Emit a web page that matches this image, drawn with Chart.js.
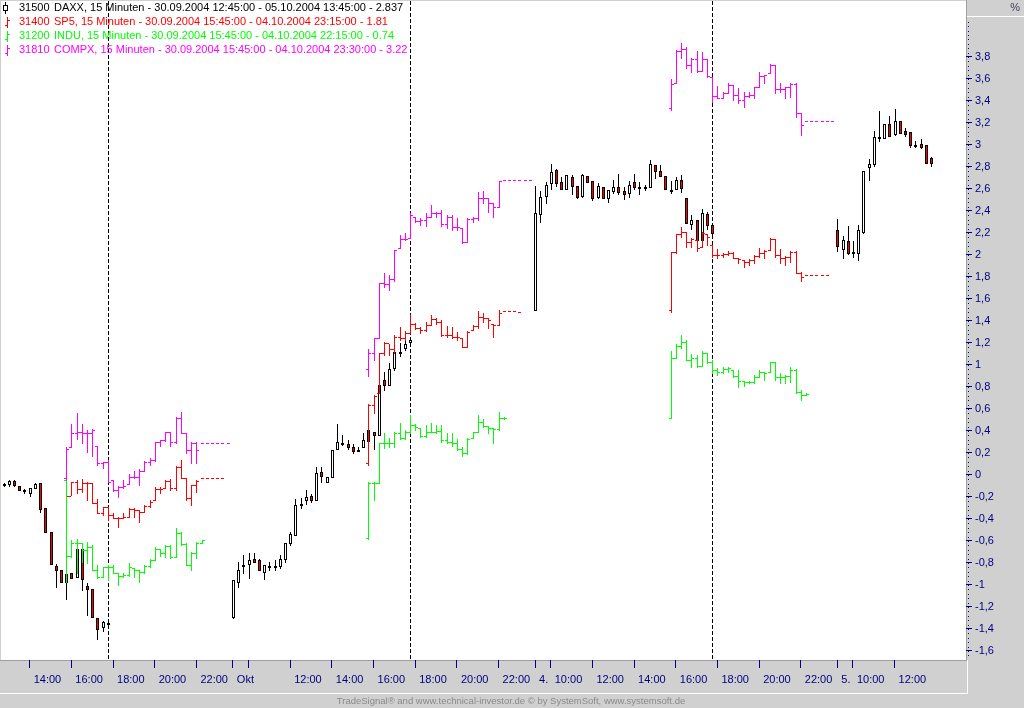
<!DOCTYPE html>
<html lang="de">
<head>
<meta charset="UTF-8">
<title>DAXX / SP5 / INDU / COMPX - 15 Minuten</title>
<script src="https://cdn.jsdelivr.net/npm/chart.js@4.4.2/dist/chart.umd.min.js"></script>
<style>
  html, body { margin: 0; padding: 0; background: #d0d0d0; overflow: hidden; }
  #wrap { width: 1024px; height: 708px; }
</style>
</head>
<body>
<div id="wrap"><canvas id="chart" width="1024" height="708"></canvas></div>
<script>
// --- Daten: Prozentwerte, je Balken [Open, High, Low, Close] ---
// x = fortlaufender 15-Minuten-Slot (nur Handelszeiten)

// DAXX Kerzen
const daxxStart = [0, 44, 102, 160];
const daxxSep30 = [
  [-0.08,-0.07,-0.10,-0.085],[-0.085,-0.05,-0.10,-0.055],[-0.055,-0.05,-0.10,-0.09],[-0.10,-0.10,-0.14,-0.14],
  [-0.14,-0.13,-0.16,-0.14],[-0.16,-0.12,-0.19,-0.12],[-0.12,-0.075,-0.12,-0.085],[-0.075,-0.075,-0.34,-0.31],
  [-0.30,-0.30,-0.52,-0.52],[-0.52,-0.52,-0.81,-0.81],[-0.83,-0.81,-1.02,-0.86],[-0.86,-0.86,-0.97,-0.97],
  [-0.97,-0.90,-1.13,-0.90],[-0.89,-0.89,-0.94,-0.94],[-0.93,-0.67,-0.93,-0.67],[-0.67,-0.67,-1.05,-0.95],
  [-1.01,-0.98,-1.27,-1.04],[-1.04,-1.04,-1.29,-1.29],[-1.30,-1.30,-1.49,-1.40],[-1.38,-1.33,-1.42,-1.34],
  [-1.35,-1.33,-1.38,-1.35]
];
const daxxOct01 = [
  [-1.29,-0.955,-1.30,-0.955],[-0.97,-0.79,-1.02,-0.864],[-0.83,-0.73,-0.89,-0.82],[-0.81,-0.71,-0.94,-0.77],
  [-0.76,-0.71,-0.79,-0.79],[-0.77,-0.76,-0.86,-0.86],[-0.88,-0.82,-0.95,-0.82],[-0.83,-0.79,-0.86,-0.83],
  [-0.83,-0.77,-0.86,-0.83],[-0.83,-0.73,-0.85,-0.76],[-0.765,-0.615,-0.79,-0.615],[-0.62,-0.52,-0.64,-0.54],
  [-0.55,-0.22,-0.55,-0.27],[-0.26,-0.21,-0.30,-0.26],[-0.23,-0.14,-0.26,-0.20],[-0.19,-0.17,-0.25,-0.23],
  [-0.23,0.076,-0.23,0.015],[0.03,0.076,-0.06,-0.01],[-0.067,-0.02,-0.067,-0.02],[-0.02,0.23,-0.02,0.23],
  [0.24,0.46,0.24,0.30],[0.29,0.36,0.27,0.29],[0.28,0.32,0.24,0.25],[0.25,0.28,0.20,0.22],
  [0.23,0.25,0.22,0.23],[0.25,0.38,0.25,0.32],[0.41,0.41,0.31,0.31],[0.39,0.39,0.24,0.36],
  [0.36,0.82,0.36,0.82],[0.86,0.94,0.77,0.82],[0.82,1.02,0.82,0.96],[0.97,1.12,0.95,1.12],
  [1.12,1.20,1.08,1.12],[1.15,1.23,1.14,1.19],[1.21,1.24,1.19,1.23]
];
const daxxOct04 = [
  [1.50,2.63,1.50,2.38],[2.37,2.58,2.30,2.53],[2.54,2.66,2.47,2.64],[2.65,2.83,2.60,2.75],
  [2.77,2.78,2.63,2.65],[2.66,2.71,2.60,2.60],[2.60,2.73,2.60,2.73],[2.71,2.73,2.55,2.63],
  [2.63,2.63,2.52,2.53],[2.54,2.74,2.53,2.73],[2.72,2.72,2.66,2.66],[2.67,2.67,2.50,2.52],
  [2.53,2.65,2.52,2.63],[2.62,2.62,2.52,2.52],[2.52,2.59,2.48,2.59],[2.58,2.68,2.56,2.62],
  [2.62,2.74,2.55,2.57],[2.58,2.62,2.51,2.55],[2.56,2.67,2.53,2.64],[2.66,2.74,2.60,2.62],
  [2.62,2.66,2.55,2.62],[2.62,2.64,2.59,2.62],[2.62,2.86,2.62,2.83],[2.82,2.82,2.70,2.76],
  [2.76,2.82,2.72,2.72],[2.72,2.72,2.60,2.60],[2.59,2.67,2.56,2.59],[2.60,2.71,2.60,2.68],
  [2.68,2.73,2.57,2.61],[2.52,2.52,2.29,2.29],[2.28,2.36,2.24,2.32],[2.32,2.32,2.14,2.14],
  [2.14,2.42,2.14,2.38],[2.37,2.39,2.24,2.27],[2.27,2.27,2.17,2.20]
];
const daxxOct05 = [
  [2.23,2.33,2.04,2.08],[2.05,2.17,1.97,2.14],[2.13,2.26,2.01,2.02],[2.03,2.13,1.98,2.03],
  [2.02,2.27,1.95,2.23],[2.21,2.76,2.20,2.76],[2.80,2.87,2.68,2.83],[2.83,3.13,2.81,3.07],
  [3.07,3.31,3.04,3.07],[3.06,3.19,3.06,3.19],[3.19,3.26,3.08,3.08],[3.10,3.33,3.09,3.22],
  [3.22,3.22,3.11,3.11],[3.13,3.15,3.08,3.10],[3.12,3.12,2.98,3.00],[3.00,3.04,2.98,3.00],
  [3.01,3.05,2.97,2.98],[3.00,3.00,2.84,2.84],[2.88,2.89,2.81,2.837]
];

// US-Indizes (Balken), Start jeweils 15:45
const usStart = [12, 70, 128];
const sp5Sep30 = [
  [-0.05,-0.045,-0.197,-0.191],[-0.191,-0.061,-0.182,-0.061],[-0.061,-0.045,-0.167,-0.13],[-0.13,-0.04,-0.152,-0.07],
  [-0.07,-0.061,-0.227,-0.076],[-0.076,-0.076,-0.258,-0.258],[-0.258,-0.221,-0.348,-0.348],[-0.348,-0.288,-0.364,-0.294],
  [-0.294,-0.288,-0.409,-0.364],[-0.364,-0.348,-0.394,-0.394],[-0.394,-0.385,-0.47,-0.394],[-0.394,-0.348,-0.394,-0.385],
  [-0.379,-0.303,-0.379,-0.312],[-0.312,-0.303,-0.379,-0.318],[-0.318,-0.318,-0.424,-0.333],[-0.333,-0.273,-0.333,-0.282],
  [-0.282,-0.227,-0.288,-0.242],[-0.227,-0.112,-0.227,-0.13],[-0.13,-0.112,-0.16,-0.13],[-0.121,-0.045,-0.121,-0.052],
  [-0.052,-0.04,-0.136,-0.121],[-0.121,0.082,-0.136,0.076],[0.076,0.136,-0.03,-0.03],[-0.03,-0.03,-0.227,-0.212],
  [-0.212,-0.091,-0.273,-0.091],[-0.091,-0.045,-0.152,-0.052],
  [-0.03,-0.03,-0.03,-0.03],[-0.03,-0.03,-0.03,-0.03],[-0.03,-0.03,-0.03,-0.03],[-0.03,-0.03,-0.03,-0.03],[-0.03,-0.03,-0.03,-0.03]
];
const sp5Oct01 = [
  [0.106,0.645,0.091,0.636],[0.636,0.727,0.561,0.718],[0.742,1.106,0.742,1.106],[1.106,1.212,1.091,1.197],
  [1.197,1.191,1.091,1.142],[1.142,1.273,1.106,1.258],[1.258,1.348,1.227,1.242],[1.242,1.312,1.227,1.288],
  [1.288,1.455,1.288,1.373],[1.373,1.379,1.324,1.333],[1.333,1.348,1.288,1.318],[1.318,1.394,1.312,1.364],
  [1.364,1.455,1.364,1.415],[1.415,1.424,1.373,1.394],[1.394,1.409,1.264,1.273],[1.273,1.355,1.258,1.273],
  [1.273,1.348,1.242,1.252],[1.252,1.303,1.227,1.258],[1.242,1.242,1.161,1.167],[1.167,1.312,1.161,1.303],
  [1.318,1.364,1.318,1.358],[1.358,1.491,1.333,1.439],[1.439,1.476,1.394,1.424],[1.424,1.424,1.333,1.409],
  [1.373,1.373,1.258,1.364],[1.364,1.50,1.364,1.476],
  [1.49,1.49,1.49,1.49],[1.49,1.49,1.49,1.49],[1.49,1.49,1.49,1.49],[1.48,1.48,1.48,1.48]
];
const sp5Oct04 = [
  [1.50,2.03,1.485,2.03],[2.03,2.191,2.021,2.191],[2.191,2.258,2.167,2.212],[2.212,2.212,2.076,2.121],
  [2.121,2.152,2.076,2.142],[2.136,2.136,2.039,2.061],[2.076,2.212,2.076,2.197],[2.191,2.191,2.091,2.167],
  [2.091,2.091,1.985,2.0],[2.0,2.052,1.97,1.997],[1.997,2.015,1.985,2.009],[2.009,2.039,2.0,2.021],
  [2.021,2.03,1.97,1.97],[1.97,1.97,1.924,1.961],[1.955,1.955,1.888,1.939],[1.939,1.961,1.909,1.955],
  [1.955,2.0,1.924,1.991],[1.991,2.061,1.985,2.021],[2.021,2.045,1.97,2.039],[2.045,2.152,2.045,2.142],
  [2.142,2.142,1.985,2.0],[2.0,2.052,1.924,1.97],[1.97,1.991,1.909,1.985],[1.985,2.039,1.939,2.03],
  [2.03,2.039,1.839,1.839],[1.839,1.848,1.767,1.803],
  [1.815,1.815,1.815,1.815],[1.815,1.815,1.815,1.815],[1.815,1.815,1.815,1.815],[1.815,1.815,1.815,1.815],[1.815,1.815,1.815,1.815]
];

const induSep30 = [
  [-0.05,-0.045,-0.97,-0.736],[-0.736,-0.59,-0.742,-0.621],[-0.621,-0.585,-0.894,-0.621],[-0.621,-0.615,-0.788,-0.682],
  [-0.682,-0.606,-0.803,-0.652],[-0.652,-0.636,-0.864,-0.864],[-0.864,-0.818,-0.939,-0.924],[-0.924,-0.833,-0.924,-0.833],
  [-0.833,-0.818,-0.955,-0.833],[-0.833,-0.818,-0.894,-0.894],[-0.894,-0.894,-1.0,-0.918],[-0.918,-0.894,-0.924,-0.909],
  [-0.909,-0.803,-0.918,-0.833],[-0.848,-0.848,-0.924,-0.864],[-0.864,-0.864,-0.97,-0.879],[-0.879,-0.818,-0.888,-0.824],
  [-0.824,-0.767,-0.833,-0.773],[-0.773,-0.652,-0.773,-0.676],[-0.676,-0.676,-0.736,-0.712],[-0.712,-0.636,-0.742,-0.645],
  [-0.645,-0.636,-0.758,-0.742],[-0.742,-0.485,-0.742,-0.53],[-0.53,-0.515,-0.636,-0.627],[-0.627,-0.621,-0.818,-0.818],
  [-0.818,-0.697,-0.864,-0.712],[-0.712,-0.606,-0.758,-0.615],[-0.615,-0.59,-0.62,-0.59]
];
const induOct01 = [
  [-0.576,-0.061,-0.585,-0.07],[-0.07,-0.061,-0.227,-0.07],[-0.07,0.294,-0.076,0.294],[0.294,0.379,0.242,0.294],
  [0.294,0.333,0.258,0.294],[0.294,0.394,0.258,0.379],[0.379,0.47,0.324,0.333],[0.333,0.409,0.324,0.394],
  [0.394,0.545,0.379,0.455],[0.455,0.464,0.409,0.439],[0.424,0.424,0.348,0.355],[0.355,0.455,0.348,0.394],
  [0.394,0.47,0.394,0.394],[0.394,0.455,0.385,0.40],[0.40,0.455,0.303,0.318],[0.318,0.379,0.288,0.303],
  [0.303,0.379,0.264,0.288],[0.288,0.324,0.227,0.233],[0.233,0.252,0.173,0.197],[0.197,0.333,0.188,0.324],
  [0.333,0.394,0.333,0.388],[0.394,0.545,0.394,0.485],[0.485,0.506,0.439,0.445],[0.445,0.445,0.379,0.424],
  [0.424,0.424,0.294,0.415],[0.415,0.573,0.409,0.515],[0.515,0.524,0.509,0.52]
];
const induOct04 = [
  [0.52,1.13,0.52,1.06],[1.061,1.191,1.061,1.173],[1.173,1.273,1.152,1.212],[1.212,1.227,1.045,1.045],
  [1.045,1.10,0.985,1.061],[1.061,1.091,0.979,0.991],[0.991,1.13,0.991,1.112],[1.112,1.112,1.015,1.03],
  [1.03,1.045,0.924,0.955],[0.955,0.97,0.909,0.939],[0.939,0.985,0.924,0.961],[0.961,0.985,0.939,0.97],
  [0.955,0.955,0.894,0.90],[0.90,0.955,0.797,0.858],[0.858,0.858,0.809,0.848],[0.848,0.858,0.833,0.848],
  [0.848,0.909,0.839,0.894],[0.894,0.955,0.894,0.939],[0.939,0.939,0.864,0.93],[0.939,1.03,0.939,1.03],
  [1.03,1.03,0.864,0.894],[0.894,0.924,0.833,0.894],[0.894,0.909,0.833,0.90],[0.90,0.979,0.848,0.955],
  [0.955,0.961,0.748,0.758],[0.758,0.773,0.682,0.727],[0.727,0.748,0.727,0.74]
];

const compxSep30 = [
  [-0.03,0.25,-0.05,0.24],[0.25,0.46,0.25,0.38],[0.38,0.56,0.33,0.39],[0.39,0.46,0.29,0.38],
  [0.38,0.41,0.21,0.38],[0.38,0.42,0.17,0.41],[0.26,0.26,0.09,0.11],[0.11,0.12,0.06,0.12],
  [0.12,0.14,-0.06,-0.06],[-0.05,-0.05,-0.15,-0.14],[-0.14,-0.10,-0.20,-0.11],[-0.11,-0.05,-0.12,-0.10],
  [-0.08,0.01,-0.08,-0.02],[-0.02,0.04,-0.03,-0.02],[-0.02,0.05,-0.09,0.04],[0.04,0.13,0.04,0.12],
  [0.12,0.15,0.09,0.14],[0.14,0.30,0.13,0.30],[0.30,0.32,0.26,0.32],[0.32,0.39,0.31,0.39],
  [0.39,0.39,0.26,0.30],[0.30,0.53,0.29,0.52],[0.52,0.57,0.38,0.38],[0.38,0.38,0.20,0.23],
  [0.23,0.30,0.11,0.29],[0.29,0.30,0.11,0.23],
  [0.29,0.29,0.29,0.29],[0.29,0.29,0.29,0.29],[0.29,0.29,0.29,0.29],[0.29,0.29,0.29,0.29],[0.29,0.29,0.29,0.29],[0.29,0.29,0.29,0.29]
];
const compxOct01 = [
  [0.96,1.142,0.90,1.106],[1.106,1.242,1.045,1.242],[1.242,1.742,1.242,1.742],[1.742,1.833,1.712,1.736],
  [1.736,1.818,1.682,1.779],[1.779,2.045,1.767,2.045],[2.06,2.182,2.06,2.142],[2.142,2.197,2.136,2.142],
  [2.152,2.379,2.152,2.364],[2.348,2.348,2.303,2.312],[2.312,2.333,2.273,2.318],[2.318,2.379,2.264,2.348],
  [2.348,2.455,2.348,2.379],[2.379,2.394,2.348,2.379],[2.379,2.409,2.264,2.282],[2.282,2.364,2.242,2.348],
  [2.348,2.364,2.227,2.258],[2.258,2.333,2.227,2.258],[2.242,2.242,2.112,2.121],[2.121,2.333,2.121,2.324],
  [2.324,2.348,2.303,2.333],[2.333,2.576,2.318,2.515],[2.515,2.582,2.47,2.515],[2.515,2.515,2.394,2.476],
  [2.47,2.47,2.348,2.433],[2.433,2.673,2.433,2.673],
  [2.68,2.68,2.68,2.68],[2.68,2.68,2.68,2.68],[2.68,2.68,2.68,2.68],[2.68,2.68,2.68,2.68],[2.68,2.68,2.68,2.68],[2.68,2.68,2.68,2.68]
];
const compxOct04 = [
  [3.333,3.597,3.318,3.555],[3.561,3.864,3.561,3.858],[3.858,3.924,3.788,3.87],[3.87,3.888,3.697,3.727],
  [3.727,3.788,3.667,3.779],[3.779,3.858,3.667,3.676],[3.676,3.842,3.676,3.779],[3.779,3.779,3.621,3.627],
  [3.621,3.621,3.394,3.445],[3.445,3.536,3.424,3.43],[3.43,3.485,3.424,3.476],[3.476,3.567,3.47,3.545],
  [3.545,3.545,3.409,3.455],[3.455,3.515,3.379,3.409],[3.409,3.485,3.348,3.445],[3.445,3.485,3.439,3.455],
  [3.455,3.53,3.424,3.524],[3.53,3.667,3.53,3.627],[3.627,3.636,3.567,3.636],[3.652,3.736,3.652,3.727],
  [3.727,3.727,3.47,3.506],[3.506,3.567,3.485,3.506],[3.506,3.53,3.424,3.524],[3.524,3.561,3.439,3.555],
  [3.555,3.561,3.258,3.294],[3.288,3.288,3.091,3.182],
  [3.22,3.22,3.22,3.22],[3.22,3.22,3.22,3.22],[3.22,3.22,3.22,3.22],[3.22,3.22,3.22,3.22],[3.22,3.22,3.22,3.22],[3.22,3.22,3.22,3.22]
];

// Achsen
const xTickSlots  = [5, 13, 21, 29, 37, 44, 47, 55, 63, 71, 79, 87, 95, 102, 105, 113, 121, 129, 137, 145, 153, 160, 163, 171];
const xTickLabels = ['14:00','16:00','18:00','20:00','22:00','Okt','','12:00','14:00','16:00','18:00','20:00','22:00','4.',
                     '10:00','12:00','14:00','16:00','18:00','20:00','22:00','5.','10:00','12:00'];
const yTickValues = [-1.6,-1.4,-1.2,-1,-0.8,-0.6,-0.4,-0.2,0,0.2,0.4,0.6,0.8,1,1.2,1.4,1.6,1.8,2,2.2,2.4,2.6,2.8,3,3.2,3.4,3.6,3.8];
const sessionEndSlots = [20, 78, 136];

// Legende
const legendCodes  = ['31500', '31400', '31200', '31810'];
const legendTexts  = [
  'DAXX, 15 Minuten - 30.09.2004 12:45:00 - 05.10.2004 13:45:00 - 2.837',
  'SP5, 15 Minuten - 30.09.2004 15:45:00 - 04.10.2004 23:15:00 - 1.81',
  'INDU, 15 Minuten - 30.09.2004 15:45:00 - 04.10.2004 22:15:00 - 0.74',
  'COMPX, 15 Minuten - 30.09.2004 15:45:00 - 04.10.2004 23:30:00 - 3.22'
];
const legendColors = ['#000000', '#ff0000', '#00ff00', '#ff00ff'];

const FONT = '"Liberation Sans", Arial, sans-serif';
const PANEL = '#d0d0d0';
const NAVY = '#000080';

function toPoints(starts, sessions) {
  const pts = [];
  sessions.forEach((bars, k) => {
    bars.forEach((b, i) => pts.push({ x: starts[k] + i, y: b[3], o: b[0], h: b[1], l: b[2], c: b[3] }));
  });
  return pts;
}

// --- Zeichnen von Kerzen / OHLC-Balken ueber die Chart.js-Skalen ---
const barPlugin = {
  id: 'barPlugin',
  beforeDraw(chart) {
    const ctx = chart.ctx, a = chart.chartArea;
    ctx.save();
    ctx.fillStyle = PANEL;
    ctx.fillRect(0, 0, chart.width, chart.height);
    ctx.fillStyle = '#ffffff';
    ctx.fillRect(a.left, a.top, a.right - a.left, a.bottom - a.top);
    // Rahmen
    ctx.fillStyle = '#a0a0a0';
    ctx.fillRect(a.right, 0, 1, a.bottom);
    ctx.fillRect(0, a.bottom, a.right + 1, 1);
    ctx.fillStyle = '#ffffff';
    ctx.fillRect(a.right + 1, 16, chart.width - a.right - 1, 1);
    ctx.fillRect(0, a.bottom + 33, a.right + 2, 1);
    ctx.fillRect(a.right + 1, a.bottom, 1, 34);
    ctx.restore();
  },
  beforeDatasetsDraw(chart) {
    const ctx = chart.ctx, a = chart.chartArea, xs = chart.scales.x;
    ctx.save();
    ctx.strokeStyle = '#000000';
    ctx.lineWidth = 1;
    ctx.setLineDash([4, 2]);
    sessionEndSlots.forEach(s => {
      const px = Math.round(xs.getPixelForValue(s)) + 0.5;
      ctx.beginPath();
      ctx.moveTo(px, a.top);
      ctx.lineTo(px, a.bottom);
      ctx.stroke();
    });
    ctx.restore();
  },
  afterDatasetsDraw(chart) {
    const ctx = chart.ctx, xs = chart.scales.x, ys = chart.scales.y;
    ctx.save();
    chart.data.datasets.forEach(ds => {
      ds.data.forEach(p => {
        const px = Math.round(xs.getPixelForValue(p.x));
        const yO = Math.round(ys.getPixelForValue(p.o));
        const yH = Math.round(ys.getPixelForValue(p.h));
        const yL = Math.round(ys.getPixelForValue(p.l));
        const yC = Math.round(ys.getPixelForValue(p.c));
        if (ds.kind === 'candle') {
          ctx.fillStyle = '#000000';
          ctx.fillRect(px, yH, 1, Math.max(1, yL - yH + 1));
          const top = Math.min(yO, yC), h = Math.max(2, Math.abs(yO - yC) + 1);
          ctx.fillRect(px - 1, top, 3, h);
          if (h > 2) {
            ctx.fillStyle = p.c >= p.o ? '#ffffff' : '#ff0000';
            ctx.fillRect(px, top + 1, 1, h - 2);
          }
        } else {
          ctx.fillStyle = ds.color;
          if (p.h === p.l) {
            ctx.fillRect(px - 1, yC, 3, 1);
          } else {
            ctx.fillRect(px, yH, 1, Math.max(1, yL - yH + 1));
            ctx.fillRect(px - 2, yO, 2, 1);
            ctx.fillRect(px + 1, yC, 2, 1);
          }
        }
      });
    });
    ctx.restore();
  },
  afterDraw(chart) {
    const ctx = chart.ctx, a = chart.chartArea, ys = chart.scales.y;
    ctx.save();
    // feine Teilstriche der Prozentachse
    ctx.fillStyle = NAVY;
    for (let v = -1.68; v <= 4.3; v += 0.04) {
      const py = Math.round(ys.getPixelForValue(v));
      if (py > a.top + 18 && py < a.bottom) ctx.fillRect(a.right + 2, py, 1, 1);
    }
    ctx.font = '11px ' + FONT;
    ctx.textBaseline = 'middle';
    ctx.textAlign = 'right';
    ctx.fillStyle = '#404060';
    ctx.fillText('%', chart.width - 4, 8);
    // Legende
    ctx.textAlign = 'left';
    legendCodes.forEach((code, i) => {
      const y = 8 + i * 14;
      const col = legendColors[i];
      if (i === 0) {
        ctx.fillStyle = '#000000';
        ctx.fillRect(5, y - 6, 1, 12);
        ctx.fillRect(3, y - 3, 5, 6);
        ctx.fillStyle = '#ffffff';
        ctx.fillRect(4, y - 2, 3, 4);
      } else {
        ctx.fillStyle = col;
        ctx.fillRect(7, y - 5, 1, 11);
        ctx.fillRect(5, y + 3, 2, 1);
        ctx.fillRect(8, y - 2, 2, 1);
      }
      ctx.fillStyle = col;
      ctx.fillText(code, 19, y);
      ctx.fillText(legendTexts[i], 54, y);
    });
    // Fusszeile
    ctx.font = '9.5px ' + FONT;
    ctx.textAlign = 'center';
    ctx.fillStyle = '#8a8a8a';
    ctx.fillText('TradeSignal\u00ae and www.technical-investor.de \u00a9 by SystemSoft, www.systemsoft.de', 511, 701);
    ctx.restore();
  }
};

new Chart(document.getElementById('chart'), {
  type: 'scatter',
  data: {
    datasets: [
      { label: 'DAXX', kind: 'candle', data: toPoints(daxxStart, [daxxSep30, daxxOct01, daxxOct04, daxxOct05]) },
      { label: 'SP5', kind: 'ohlc', color: '#ff0000', data: toPoints(usStart, [sp5Sep30, sp5Oct01, sp5Oct04]) },
      { label: 'INDU', kind: 'ohlc', color: '#00ff00', data: toPoints(usStart, [induSep30, induOct01, induOct04]) },
      { label: 'COMPX', kind: 'ohlc', color: '#ff00ff', data: toPoints(usStart, [compxSep30, compxOct01, compxOct04]) }
    ]
  },
  options: {
    responsive: false,
    animation: false,
    devicePixelRatio: 1,
    showLine: false,
    elements: { point: { radius: 0, hoverRadius: 0 } },
    layout: { padding: { left: 1, top: 1, right: 0, bottom: 15 } },
    plugins: { legend: { display: false }, tooltip: { enabled: false } },
    scales: {
      x: {
        type: 'linear', position: 'bottom', min: -0.5, max: 184.7,
        afterBuildTicks: s => { s.ticks = xTickSlots.map(v => ({ value: v })); },
        afterFit: s => { s.height = 33; s.paddingLeft = 0; s.paddingRight = 0; },
        grid: { drawOnChartArea: false, drawTicks: true, tickLength: 8, color: NAVY },
        border: { display: false },
        ticks: {
          autoSkip: false, maxRotation: 0, minRotation: 0, align: 'start', labelOffset: 4, padding: 5,
          color: NAVY, font: { family: FONT, size: 11 },
          callback: (v, i) => xTickLabels[i]
        }
      },
      y: {
        type: 'linear', position: 'right', min: -1.682, max: 4.309,
        afterBuildTicks: s => { s.ticks = yTickValues.map(v => ({ value: v })); },
        afterFit: s => { s.width = 58; s.paddingTop = 0; s.paddingBottom = 0; },
        grid: { drawOnChartArea: false, drawTicks: true, tickLength: 6, color: NAVY },
        border: { display: false },
        ticks: {
          padding: 3, color: NAVY, font: { family: FONT, size: 11 },
          callback: v => String(v).replace('.', ',')
        }
      }
    }
  },
  plugins: [barPlugin]
});
</script>
</body>
</html>
